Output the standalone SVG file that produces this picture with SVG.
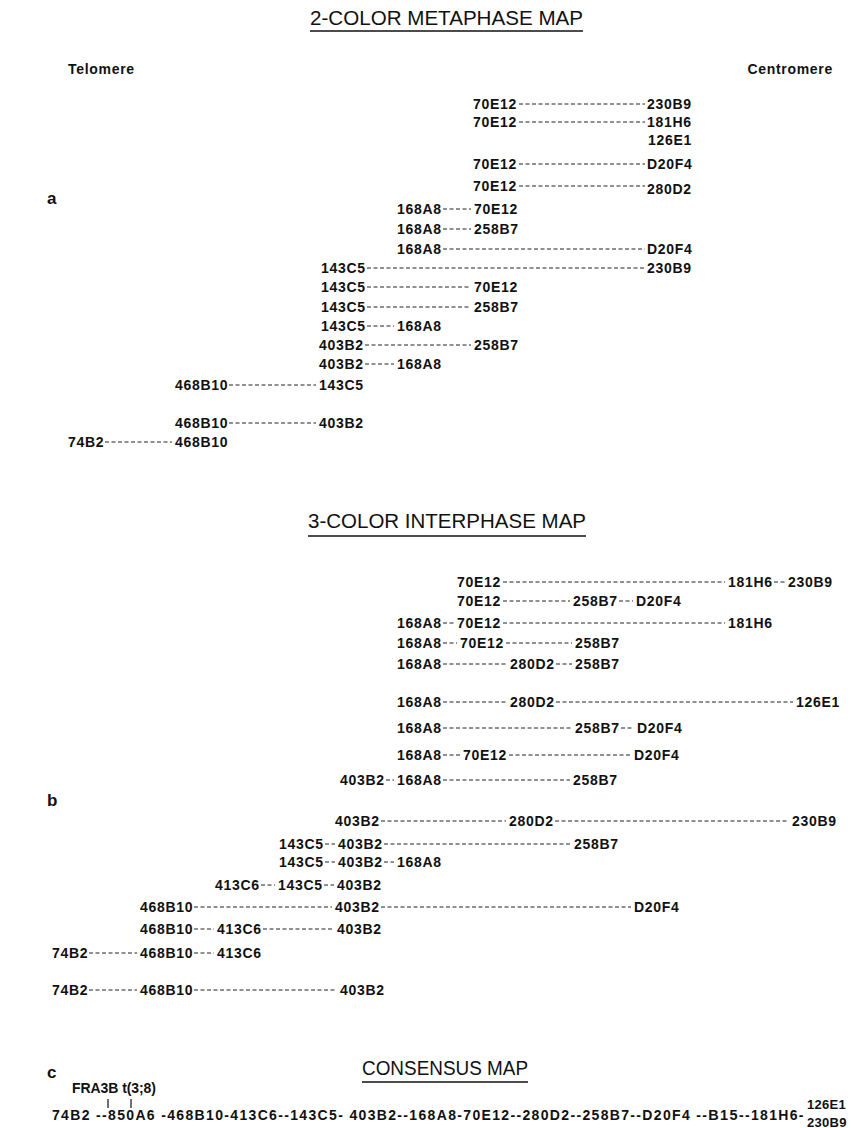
<svg xmlns="http://www.w3.org/2000/svg" width="851" height="1128" viewBox="0 0 851 1128">
<style>
.bg{fill:#fff}
.l{font-family:"Liberation Sans",Arial,sans-serif;font-weight:bold;font-size:14px;letter-spacing:0.7px;fill:#111}
.h{font-family:"Liberation Sans",Arial,sans-serif;font-size:20px;fill:#111}
.s{font-family:"Liberation Sans",Arial,sans-serif;font-weight:bold;font-size:17px;fill:#111}
.u{stroke:#111;stroke-width:1.4}
.d{stroke:#222;stroke-width:1;stroke-dasharray:4 2.5;fill:none}
.tk{stroke:#111;stroke-width:1.2}
</style>
<rect class="bg" width="851" height="1128"/>

<g id="titles">
<text class="h" x="310" y="25" textLength="273" lengthAdjust="spacingAndGlyphs">2-COLOR METAPHASE MAP</text>
<line class="u" x1="310" y1="31" x2="583" y2="31"/>
<text class="h" x="308" y="528" textLength="278" lengthAdjust="spacingAndGlyphs">3-COLOR INTERPHASE MAP</text>
<line class="u" x1="308" y1="536" x2="586" y2="536"/>
<text class="h" x="362" y="1075" textLength="166" lengthAdjust="spacingAndGlyphs">CONSENSUS MAP</text>
<line class="u" x1="362" y1="1082" x2="528" y2="1082"/>
<text class="l" x="68" y="74">Telomere</text>
<text class="l" x="833" y="74" text-anchor="end">Centromere</text>
<text class="s" x="47" y="204">a</text>
<text class="s" x="47" y="806">b</text>
<text class="s" x="47" y="1078">c</text>
</g>

<g id="connectors">
<line class="d" x1="519" y1="104" x2="645" y2="104"/>
<line class="d" x1="519" y1="122" x2="645" y2="122"/>
<line class="d" x1="519" y1="164" x2="645" y2="164"/>
<line class="d" x1="519" y1="186" x2="645" y2="186"/>
<line class="d" x1="443" y1="209" x2="471" y2="209"/>
<line class="d" x1="443" y1="229" x2="471" y2="229"/>
<line class="d" x1="443" y1="249" x2="645" y2="249"/>
<line class="d" x1="367" y1="268" x2="645" y2="268"/>
<line class="d" x1="367" y1="287" x2="471" y2="287"/>
<line class="d" x1="367" y1="307" x2="471" y2="307"/>
<line class="d" x1="367" y1="326" x2="394" y2="326"/>
<line class="d" x1="365" y1="345" x2="471" y2="345"/>
<line class="d" x1="365" y1="364" x2="394" y2="364"/>
<line class="d" x1="229" y1="385" x2="316" y2="385"/>
<line class="d" x1="229" y1="423" x2="316" y2="423"/>
<line class="d" x1="105" y1="442" x2="172" y2="442"/>
<line class="d" x1="503" y1="582" x2="725" y2="582"/>
<line class="d" x1="774" y1="582" x2="785" y2="582"/>
<line class="d" x1="503" y1="601" x2="570" y2="601"/>
<line class="d" x1="619" y1="601" x2="633" y2="601"/>
<line class="d" x1="443" y1="623" x2="454" y2="623"/>
<line class="d" x1="503" y1="623" x2="725" y2="623"/>
<line class="d" x1="443" y1="643" x2="457" y2="643"/>
<line class="d" x1="506" y1="643" x2="572" y2="643"/>
<line class="d" x1="443" y1="664" x2="507" y2="664"/>
<line class="d" x1="556" y1="664" x2="572" y2="664"/>
<line class="d" x1="443" y1="702" x2="507" y2="702"/>
<line class="d" x1="556" y1="702" x2="793" y2="702"/>
<line class="d" x1="443" y1="728" x2="572" y2="728"/>
<line class="d" x1="621" y1="728" x2="634" y2="728"/>
<line class="d" x1="443" y1="755" x2="460" y2="755"/>
<line class="d" x1="509" y1="755" x2="631" y2="755"/>
<line class="d" x1="386" y1="780" x2="394" y2="780"/>
<line class="d" x1="443" y1="780" x2="570" y2="780"/>
<line class="d" x1="381" y1="821" x2="506" y2="821"/>
<line class="d" x1="555" y1="821" x2="789" y2="821"/>
<line class="d" x1="325" y1="844" x2="335" y2="844"/>
<line class="d" x1="384" y1="844" x2="571" y2="844"/>
<line class="d" x1="325" y1="862" x2="335" y2="862"/>
<line class="d" x1="384" y1="862" x2="394" y2="862"/>
<line class="d" x1="261" y1="885" x2="275" y2="885"/>
<line class="d" x1="324" y1="885" x2="334" y2="885"/>
<line class="d" x1="194" y1="907" x2="332" y2="907"/>
<line class="d" x1="381" y1="907" x2="631" y2="907"/>
<line class="d" x1="194" y1="929" x2="214" y2="929"/>
<line class="d" x1="263" y1="929" x2="334" y2="929"/>
<line class="d" x1="89" y1="953" x2="137" y2="953"/>
<line class="d" x1="194" y1="953" x2="214" y2="953"/>
<line class="d" x1="89" y1="990" x2="137" y2="990"/>
<line class="d" x1="194" y1="990" x2="337" y2="990"/>
<line class="tk" x1="108" y1="1099" x2="108" y2="1108"/>
<line class="tk" x1="131" y1="1099" x2="131" y2="1108"/>
</g>

<g id="map-a">
<g id="a1"><text class="l" x="473" y="109">70E12</text><text class="l" x="647" y="109">230B9</text></g>
<g id="a2"><text class="l" x="473" y="127">70E12</text><text class="l" x="647" y="127">181H6</text></g>
<g id="a3"><text class="l" x="648" y="145">126E1</text></g>
<g id="a4"><text class="l" x="473" y="169">70E12</text><text class="l" x="647" y="169">D20F4</text></g>
<g id="a5"><text class="l" x="473" y="191">70E12</text><text class="l" x="647" y="194">280D2</text></g>
<g id="a6"><text class="l" x="397" y="214">168A8</text><text class="l" x="474" y="214">70E12</text></g>
<g id="a7"><text class="l" x="397" y="234">168A8</text><text class="l" x="474" y="234">258B7</text></g>
<g id="a8"><text class="l" x="397" y="254">168A8</text><text class="l" x="647" y="254">D20F4</text></g>
<g id="a9"><text class="l" x="321" y="273">143C5</text><text class="l" x="647" y="273">230B9</text></g>
<g id="a10"><text class="l" x="321" y="292">143C5</text><text class="l" x="474" y="292">70E12</text></g>
<g id="a11"><text class="l" x="321" y="312">143C5</text><text class="l" x="474" y="312">258B7</text></g>
<g id="a12"><text class="l" x="321" y="331">143C5</text><text class="l" x="397" y="331">168A8</text></g>
<g id="a13"><text class="l" x="319" y="350">403B2</text><text class="l" x="474" y="350">258B7</text></g>
<g id="a14"><text class="l" x="319" y="369">403B2</text><text class="l" x="397" y="369">168A8</text></g>
<g id="a15"><text class="l" x="175" y="390">468B10</text><text class="l" x="319" y="390">143C5</text></g>
<g id="a16"><text class="l" x="175" y="428">468B10</text><text class="l" x="319" y="428">403B2</text></g>
<g id="a17"><text class="l" x="68" y="447">74B2</text><text class="l" x="175" y="447">468B10</text></g>
</g>

<g id="map-b">
<g id="b1"><text class="l" x="457" y="587">70E12</text><text class="l" x="728" y="587">181H6</text><text class="l" x="788" y="587">230B9</text></g>
<g id="b2"><text class="l" x="457" y="606">70E12</text><text class="l" x="573" y="606">258B7</text><text class="l" x="636" y="606">D20F4</text></g>
<g id="b3"><text class="l" x="397" y="628">168A8</text><text class="l" x="457" y="628">70E12</text><text class="l" x="728" y="628">181H6</text></g>
<g id="b4"><text class="l" x="397" y="648">168A8</text><text class="l" x="460" y="648">70E12</text><text class="l" x="575" y="648">258B7</text></g>
<g id="b5"><text class="l" x="397" y="669">168A8</text><text class="l" x="510" y="669">280D2</text><text class="l" x="575" y="669">258B7</text></g>
<g id="b6"><text class="l" x="397" y="707">168A8</text><text class="l" x="510" y="707">280D2</text><text class="l" x="796" y="707">126E1</text></g>
<g id="b7"><text class="l" x="397" y="733">168A8</text><text class="l" x="575" y="733">258B7</text><text class="l" x="637" y="733">D20F4</text></g>
<g id="b8"><text class="l" x="397" y="760">168A8</text><text class="l" x="463" y="760">70E12</text><text class="l" x="634" y="760">D20F4</text></g>
<g id="b9"><text class="l" x="340" y="785">403B2</text><text class="l" x="397" y="785">168A8</text><text class="l" x="573" y="785">258B7</text></g>
<g id="b10"><text class="l" x="335" y="826">403B2</text><text class="l" x="509" y="826">280D2</text><text class="l" x="792" y="826">230B9</text></g>
<g id="b11"><text class="l" x="279" y="849">143C5</text><text class="l" x="338" y="849">403B2</text><text class="l" x="574" y="849">258B7</text></g>
<g id="b12"><text class="l" x="279" y="867">143C5</text><text class="l" x="338" y="867">403B2</text><text class="l" x="397" y="867">168A8</text></g>
<g id="b13"><text class="l" x="215" y="890">413C6</text><text class="l" x="278" y="890">143C5</text><text class="l" x="337" y="890">403B2</text></g>
<g id="b14"><text class="l" x="140" y="912">468B10</text><text class="l" x="335" y="912">403B2</text><text class="l" x="634" y="912">D20F4</text></g>
<g id="b15"><text class="l" x="140" y="934">468B10</text><text class="l" x="217" y="934">413C6</text><text class="l" x="337" y="934">403B2</text></g>
<g id="b16"><text class="l" x="52" y="958">74B2</text><text class="l" x="140" y="958">468B10</text><text class="l" x="217" y="958">413C6</text></g>
<g id="b17"><text class="l" x="52" y="995">74B2</text><text class="l" x="140" y="995">468B10</text><text class="l" x="340" y="995">403B2</text></g>
</g>

<g id="map-c">
<text class="l" x="72" y="1093" style="letter-spacing:0" textLength="84" lengthAdjust="spacing">FRA3B t(3;8)</text>
<text class="l" x="52" y="1120" style="letter-spacing:0.5px" textLength="752" lengthAdjust="spacing">74B2 --850A6 -468B10-413C6--143C5- 403B2--168A8-70E12--280D2--258B7--D20F4 --<tspan style="font-weight:900;font-size:14.5px">B15</tspan>--181H6-</text>
<text class="l" x="807" y="1109" style="font-size:13px;letter-spacing:0.3px">126E1</text>
<text class="l" x="807" y="1127" style="font-size:13px;letter-spacing:0.3px">230B9</text>
</g>
</svg>
